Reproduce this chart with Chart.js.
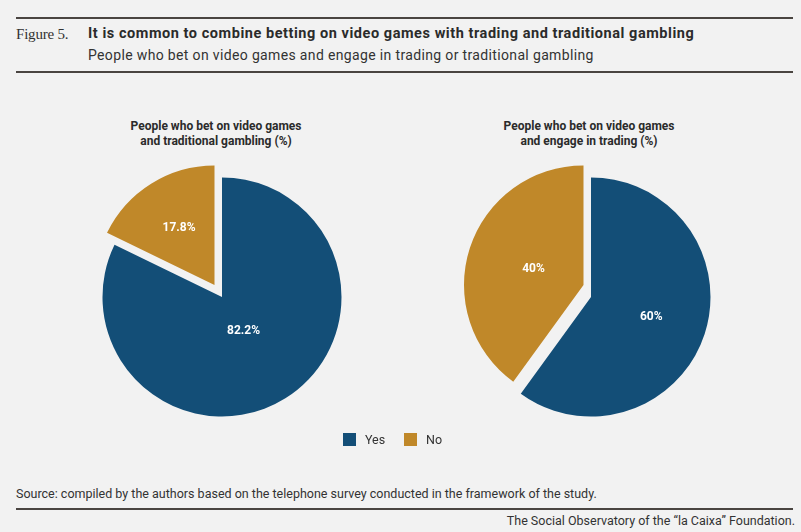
<!DOCTYPE html>
<html>
<head>
<meta charset="utf-8">
<script src="https://cdn.jsdelivr.net/npm/chart.js@4.4.1/dist/chart.umd.min.js"></script>
<style>
  body { margin: 0; background: #f2f2f2; width: 801px; height: 532px; position: relative; overflow: hidden; font-family: Roboto, sans-serif; color: #333; }
  .rule { position: absolute; left: 16px; width: 777px; height: 2px; background: #4a4541; }
  .txt { position: absolute; white-space: nowrap; }
  .pieTitle { position: absolute; width: 260px; text-align: center; font-weight: 700; font-size: 12px; line-height: 15px; color: #2b2b2b; }
  .box { position: absolute; width: 300px; height: 300px; }
  .legend { position: absolute; top: 433px; left: 0; width: 801px; height: 14px; }
  .legend span { position: absolute; }
</style>
</head>
<body>
  <div class="rule" style="top:17px"></div>
  <div class="txt" style="left:16px;top:26px;font-family:'Liberation Serif',serif;font-size:15px;line-height:16px;color:#333;letter-spacing:-0.2px">Figure 5.</div>
  <div class="txt" id="titulo" style="left:88px;top:26px;font-size:14.5px;font-weight:700;line-height:16px;color:#2b2b2b;letter-spacing:0.55px">It is common to combine betting on video games with trading and traditional gambling</div>
  <div class="txt" id="subtitulo" style="left:88px;top:47px;font-size:14px;line-height:16px;color:#333;letter-spacing:0.35px">People who bet on video games and engage in trading or traditional gambling</div>
  <div class="rule" style="top:71px"></div>

  <div class="pieTitle" style="left:86px;top:119px">People who bet on video games<br>and traditional gambling (%)</div>
  <div class="pieTitle" style="left:459px;top:119px">People who bet on video games<br>and engage in trading (%)</div>

  <div class="box" style="left:72px;top:147px"><canvas id="chartJuego"></canvas></div>
  <div class="box" style="left:440.5px;top:147px"><canvas id="chartTrading"></canvas></div>

  <div class="legend" id="leyenda"></div>

  <div class="txt" id="fuente" style="left:16px;top:486px;font-size:12.5px;line-height:16px;color:#333">Source: compiled by the authors based on the telephone survey conducted in the framework of the study.</div>
  <div class="rule" style="top:508px"></div>
  <div class="txt" id="firma" style="right:6px;top:513px;font-size:12.5px;line-height:16px;color:#333">The Social Observatory of the “la Caixa” Foundation.</div>

<script>
// Datos
const categorias = ['Yes', 'No'];
const colores = ['#134e77', '#c08829'];
const valoresJuego = [82.2, 17.8];
const valoresTrading = [60, 40];

// La porcion "No" va separada del resto
const separada = [false, true];

// Plugin: separa la porcion y pinta los porcentajes
const pluginPorciones = {
  id: 'porciones',
  afterDatasetsUpdate(chart, args, opts) {
    const meta = chart.getDatasetMeta(0);
    meta.data.forEach(function(arc, i) {
      if (separada[i]) {
        arc.x += opts.dx;
        arc.y += opts.dy;
      }
    });
  },
  afterDatasetsDraw(chart, args, opts) {
    const ctx = chart.ctx;
    const meta = chart.getDatasetMeta(0);
    const valores = chart.data.datasets[0].data;
    ctx.save();
    ctx.fillStyle = '#ffffff';
    ctx.font = 'bold 12px Roboto, sans-serif';
    ctx.textAlign = 'center';
    ctx.textBaseline = 'middle';
    meta.data.forEach(function(arc, i) {
      const medio = (arc.startAngle + arc.endAngle) / 2;
      const r = arc.outerRadius * opts.radioEtiqueta[i];
      ctx.fillText(valores[i] + '%', arc.x + Math.cos(medio) * r, arc.y + Math.sin(medio) * r);
    });
    ctx.restore();
  }
};

function crearPie(id, valores, radioEtiqueta) {
  const ctx = document.getElementById(id).getContext('2d');
  return new Chart(ctx, {
    type: 'pie',
    data: {
      labels: categorias,
      datasets: [{
        data: valores,
        backgroundColor: colores,
        borderWidth: 0,
        hoverOffset: 0,
        clip: false
      }]
    },
    options: {
      responsive: true,
      maintainAspectRatio: false,
      animation: false,
      radius: 119.5,
      layout: { padding: 0 },
      events: [],
      plugins: {
        legend: { display: false },
        tooltip: { enabled: false },
        title: { display: false },
        porciones: { dx: -7.5, dy: -12, radioEtiqueta: radioEtiqueta }
      }
    },
    plugins: [pluginPorciones]
  });
}

crearPie('chartJuego', valoresJuego, [0.34, 0.56]);
crearPie('chartTrading', valoresTrading, [0.53, 0.44]);

// Leyenda comun
const leyenda = document.getElementById('leyenda');
const posLeyenda = [343, 404];
categorias.forEach(function(cat, i) {
  const cuadro = document.createElement('span');
  cuadro.style.cssText = 'left:' + posLeyenda[i] + 'px;top:0;width:13px;height:13px;background:' + colores[i];
  leyenda.appendChild(cuadro);
  const texto = document.createElement('span');
  texto.textContent = cat;
  texto.style.cssText = 'left:' + (posLeyenda[i] + 22) + 'px;top:-1px;font-size:12.5px;line-height:15px;color:#333';
  leyenda.appendChild(texto);
});
</script>
</body>
</html>
